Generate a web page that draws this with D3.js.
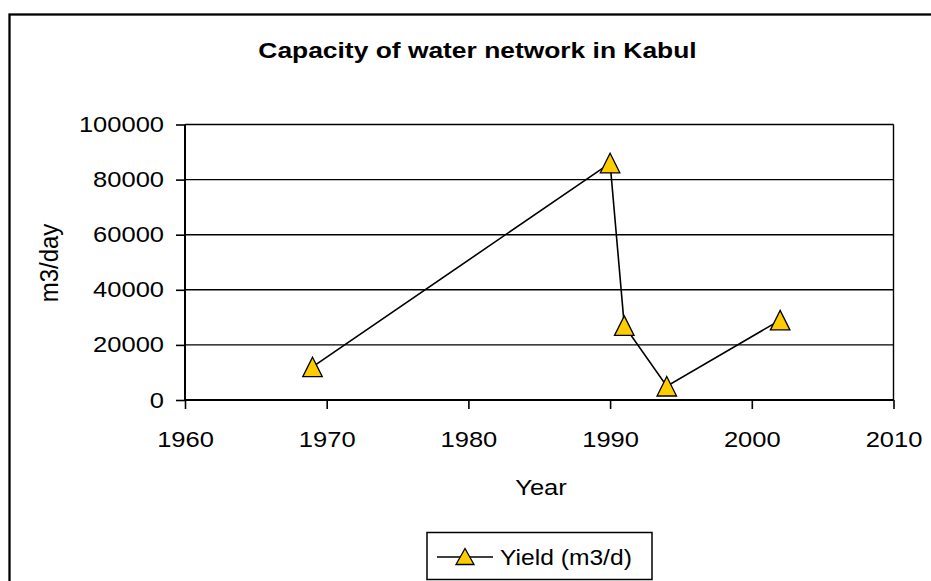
<!DOCTYPE html>
<html>
<head>
<meta charset="utf-8">
<script src="https://cdn.jsdelivr.net/npm/d3@7"></script>
<style>
  body { margin: 0; background: #fff; }
  svg { display: block; }
  text { font-family: "Liberation Sans", Arial, sans-serif; fill: #000; }
</style>
</head>
<body>
<div id="canvas"></div>
<script>
// data
var years = [1969, 1990, 1991, 1994, 2002];
var yieldValues = [12000, 86000, 27000, 5000, 29000];
var xTicks = [1960, 1970, 1980, 1990, 2000, 2010];
var yTicks = [0, 20000, 40000, 60000, 80000, 100000];
var seriesName = 'Yield (m3/d)';

var W = 931, H = 581;
var sx = 1.16; // horizontal stretch of the text in the original
var tickFont = 22;

var svg = d3.select('#canvas')
    .append('svg')
    .attr('width', W)
    .attr('height', H);

// outer frame (runs off right and bottom)
svg.append('rect')
    .attr('x', 9.5).attr('y', 14.5)
    .attr('width', W).attr('height', H)
    .attr('fill', 'none').attr('stroke', '#000').attr('stroke-width', 2.3);

var scaleX = d3.scaleLinear().domain([1960, 2010]).range([185, 893.5]);
var scaleY = d3.scaleLinear().domain([0, 100000]).range([400, 124.5]);

// gridlines
svg.append('g').selectAll('line')
    .data(yTicks)
    .enter().append('line')
    .attr('x1', scaleX(1960)).attr('x2', scaleX(2010))
    .attr('y1', function(d){ return scaleY(d); })
    .attr('y2', function(d){ return scaleY(d); })
    .attr('stroke', '#000').attr('stroke-width', 1.4);

// right edge of plot area
svg.append('line')
    .attr('x1', scaleX(2010)).attr('x2', scaleX(2010))
    .attr('y1', scaleY(100000)).attr('y2', scaleY(0))
    .attr('stroke', '#000').attr('stroke-width', 1.4);

// axes
var axisY = d3.axisLeft(scaleY).tickValues(yTicks).tickSize(9).tickPadding(8).tickFormat(d3.format('d'));
var gy = svg.append('g').attr('transform', 'translate(' + scaleX(1960) + ',0)').call(axisY);

var axisX = d3.axisBottom(scaleX).tickValues(xTicks).tickSize(9).tickPadding(22).tickFormat(d3.format('d'));
var gx = svg.append('g').attr('transform', 'translate(0,' + scaleY(0) + ')').call(axisX);

[gx, gy].forEach(function(g){
    g.select('.domain').remove();
    g.selectAll('line').attr('stroke', '#000').attr('stroke-width', 1.6);
    g.selectAll('text')
        .attr('font-size', tickFont)
        .attr('font-family', '"Liberation Sans", Arial, sans-serif')
        .attr('fill', '#000');
});
gy.selectAll('text').attr('transform', 'scale(' + sx + ',1)').attr('x', -21 / sx);
gx.selectAll('text').attr('transform', 'scale(' + sx + ',1)');

svg.append('line')
    .attr('x1', scaleX(1960)).attr('x2', scaleX(1960))
    .attr('y1', scaleY(100000)).attr('y2', scaleY(0))
    .attr('stroke', '#000').attr('stroke-width', 2);
svg.append('line')
    .attr('x1', scaleX(1960)).attr('x2', scaleX(2010))
    .attr('y1', scaleY(0)).attr('y2', scaleY(0))
    .attr('stroke', '#000').attr('stroke-width', 2);

// series
var rows = years.map(function(y, i){ return {year: y, value: yieldValues[i]}; });

var line = d3.line()
    .x(function(d){ return scaleX(d.year); })
    .y(function(d){ return scaleY(d.value); });

svg.append('path')
    .datum(rows)
    .attr('d', line)
    .attr('fill', 'none')
    .attr('stroke', '#000')
    .attr('stroke-width', 1.6);

function triangle(w, h){
    return 'M0,' + (-h/2) + 'L' + (w/2) + ',' + (h/2) + 'L' + (-w/2) + ',' + (h/2) + 'Z';
}

svg.append('g').selectAll('path')
    .data(rows)
    .enter().append('path')
    .attr('d', triangle(19.5, 19.5))
    .attr('transform', function(d){ return 'translate(' + scaleX(d.year) + ',' + scaleY(d.value) + ')'; })
    .attr('fill', '#FFCC00')
    .attr('stroke', '#000')
    .attr('stroke-width', 1.3);

// title and axis titles
svg.append('text')
    .attr('transform', 'translate(477.5,58) scale(1.2,1)')
    .attr('text-anchor', 'middle')
    .attr('font-size', 22)
    .attr('font-weight', 'bold')
    .text('Capacity of water network in Kabul');

svg.append('text')
    .attr('transform', 'translate(541,495) scale(' + sx + ',1)')
    .attr('text-anchor', 'middle')
    .attr('font-size', tickFont)
    .text('Year');

svg.append('text')
    .attr('transform', 'translate(58,263) scale(1.1,1) rotate(-90)')
    .attr('text-anchor', 'middle')
    .attr('font-size', 24)
    .text('m3/day');

// legend
var lg = svg.append('g');
lg.append('rect')
    .attr('x', 427).attr('y', 532.5)
    .attr('width', 225).attr('height', 47)
    .attr('fill', '#fff').attr('stroke', '#000').attr('stroke-width', 1.5);
lg.append('line')
    .attr('x1', 437).attr('x2', 493)
    .attr('y1', 557).attr('y2', 557)
    .attr('stroke', '#000').attr('stroke-width', 1.6);
lg.append('path')
    .attr('d', triangle(18, 16))
    .attr('transform', 'translate(465,556.5)')
    .attr('fill', '#FFCC00').attr('stroke', '#000').attr('stroke-width', 1.3);
lg.append('text')
    .attr('transform', 'translate(500,565) scale(1.12,1)')
    .attr('font-size', 22)
    .text(seriesName);
</script>
</body>
</html>
